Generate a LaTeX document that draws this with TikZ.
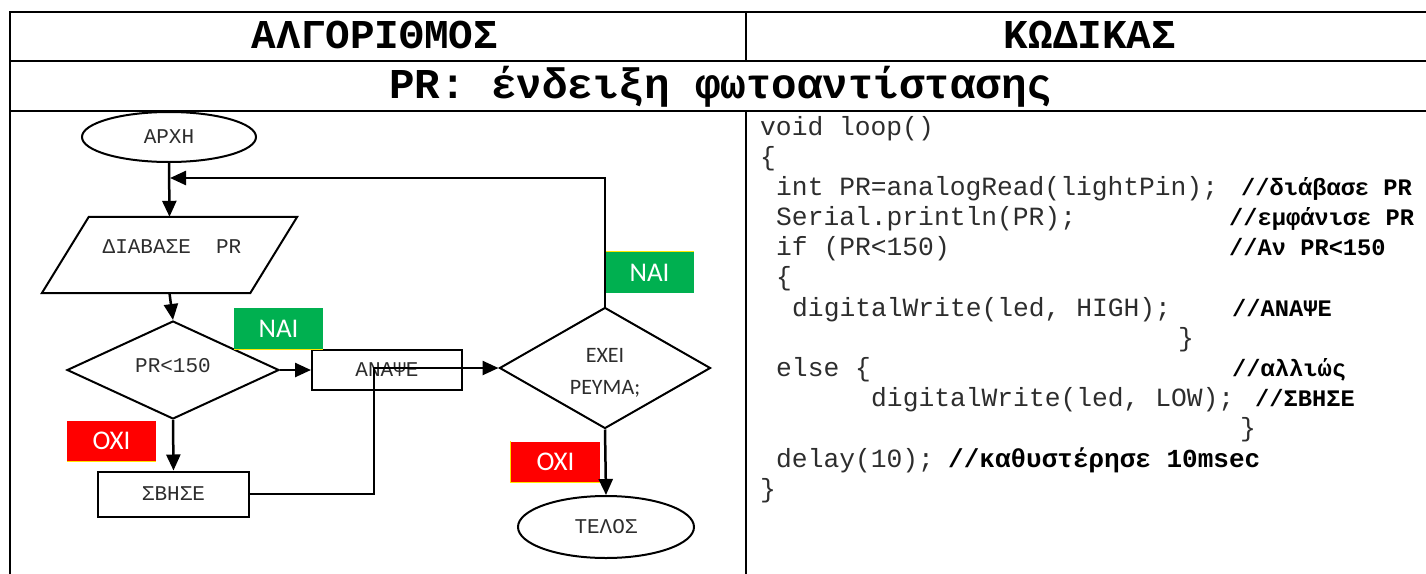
\documentclass[tikz,border=0pt]{standalone}
\usepackage{fontspec}
\setmainfont{Liberation Serif}
\newfontfamily\codefont{Liberation Mono}
\newfontfamily\labelfont{Carlito}
\usetikzlibrary{shapes.geometric,arrows.meta}

\definecolor{yesgreen}{RGB}{0,176,80}
\definecolor{nored}{RGB}{255,0,0}
\definecolor{edgeyellow}{RGB}{255,230,0}
\definecolor{ink}{RGB}{45,45,45}

\tikzset{
  gridline/.style={line width=2.6pt, line cap=rect},
  shapetext/.style={text=ink, inner sep=0pt, font=\codefont\fontsize{21}{24}\selectfont},
  shapeline/.style={shapetext, draw, line width=2pt},
  terminal/.style={shapeline, ellipse},
  decision/.style={shapeline, diamond},
  process/.style={shapeline, rectangle},
  ioline/.style={line width=2pt, line join=miter},
  flow/.style={line width=2.5pt, -{Triangle[length=16pt,width=14pt]}},
  tagbox/.style={inner sep=0pt, text=white, minimum width=89pt, minimum height=41pt,
    font=\labelfont\fontsize{27}{30}\selectfont},
  yestag/.style={tagbox, fill=yesgreen},
  notag/.style={tagbox, fill=nored},
  tagedge/.style={draw=edgeyellow, line width=1.2pt},
  code/.style={anchor=base west, inner sep=0pt, text=ink,
    font=\codefont\fontsize{26.3}{30}\selectfont},
  comment/.style={anchor=base west, inner sep=0pt, text=black,
    font=\codefont\bfseries\fontsize{23.7}{30}\selectfont},
  heading/.style={anchor=base, inner sep=0pt,
    font=\codefont\bfseries\fontsize{41}{48}\selectfont},
}

\begin{document}
\begin{tikzpicture}[x=1pt,y=-1pt]
\useasboundingbox (0,0) rectangle (1426,573);

% table frame
\draw[gridline] (10,573) -- (10,12) -- (1426,12);
\draw[gridline] (10,61) -- (1426,61);
\draw[gridline] (10,111) -- (1426,111);
\draw[gridline] (746,12) -- (746,61);
\draw[gridline] (746,111) -- (746,573);

% headings
\node[heading] (hAlg)   at (375,48) {ΑΛΓΟΡΙΘΜΟΣ};
\node[heading] (hCode)  at (1090,48) {ΚΩΔΙΚΑΣ};
\node[heading, font=\codefont\bfseries\fontsize{42.5}{48}\selectfont] (hTitle) at (721,98)
  {PR: ένδειξη φωτοαντίστασης};

% flowchart nodes
\node[terminal, minimum width=174pt, minimum height=50pt] (start) at (169,137) {ΑΡΧΗ};
\node[inner sep=0pt, minimum width=255pt, minimum height=76pt] (read) at (169.5,255) {};
\draw[ioline] ([xshift=47pt]read.north west) -- (read.north east)
  -- ([xshift=-47pt]read.south east) -- (read.south west) -- cycle;
\node[shapetext] (readtext) at (172,247) {ΔΙΑΒΑΣΕ\ \ PR};
\node[decision, minimum width=212pt, minimum height=98pt] (cond1) at (173,370) {};
\node[shapetext] (cond1text) at (173,366) {PR<150};
\node[process, minimum width=150pt, minimum height=40pt] (on) at (387,370) {ΑΝΑΨΕ};
\node[process, minimum width=151pt, minimum height=45pt] (off) at (173.5,494) {ΣΒΗΣΕ};
\node[decision, minimum width=211pt, minimum height=121pt] (cond2) at (605,368) {};
\node[shapetext, align=center, font=\labelfont\fontsize{22}{32}\selectfont]
  (cond2text) at (605,373) {ΕΧΕΙ\\ΡΕΥΜΑ;};
\node[terminal, minimum width=176pt, minimum height=62pt] (stop) at (606,527) {ΤΕΛΟΣ};

% yes / no tags
\node[yestag] (yes1) at (278.5,328.5) {ΝΑΙ};
\node[yestag] (yes2) at (649.5,272.5) {ΝΑΙ};
\node[notag]  (no1)  at (111.5,441)   {ΟΧΙ};
\node[notag]  (no2)  at (555.5,462)   {ΟΧΙ};
\draw[tagedge] (yes1.south west) -- (yes1.south east);
\draw[tagedge] (yes2.north west) -- (yes2.north east);
\draw[tagedge] (no1.south west) -- (no1.south east);
\draw[tagedge] (no2.north west) -- (no2.south west) -- (no2.south east);

% connectors
\coordinate (loopin) at (170,178);
\coordinate (merge) at (374,368);
\draw[flow] (start.south) -- (read.north);
\draw[flow] (read.south) -- (cond1.north);
\draw[flow] (cond1.east) -- (on.west);
\draw[flow] (cond1.south) -- (off.north);
\draw[flow] (off.east) -| (merge) -- (cond2.west);
\draw[flow] (cond2.north) |- (loopin);
\draw[flow] (cond2.south) -- (stop.north);

% program listing
\node[code] (c1)  at (760,135)   {void loop()};
\node[code] (c2)  at (760,165)   {\{};
\node[code] (c3)  at (776,195)   {int PR=analogRead(lightPin);};
\node[comment] (k3) at (1241,195) {//διάβασε PR};
\node[code] (c4)  at (776,225)   {Serial.println(PR);};
\node[comment] (k4) at (1229,225) {//εμφάνισε PR};
\node[code] (c5)  at (776,255)   {if (PR<150)};
\node[comment] (k5) at (1229,255) {//Αν PR<150};
\node[code] (c6)  at (776,285)   {\{};
\node[code] (c7)  at (792,316)   {digitalWrite(led, HIGH);};
\node[comment] (k7) at (1232,316) {//ΑΝΑΨΕ};
\node[code] (c8)  at (1178,346)  {\}};
\node[code] (c9)  at (776,376)   {else \{};
\node[comment] (k9) at (1232,376) {//αλλιώς};
\node[code] (c10) at (871,406)   {digitalWrite(led, LOW);};
\node[comment] (k10) at (1255,406) {//ΣΒΗΣΕ};
\node[code] (c11) at (1240,436)  {\}};
\node[code] (c12) at (776,467)   {delay(10);};
\node[comment, font=\codefont\bfseries\fontsize{26}{30}\selectfont] (k12) at (948,467)
  {//καθυστέρησε 10msec};
\node[code] (c13) at (760,497)   {\}};
\end{tikzpicture}
\end{document}
